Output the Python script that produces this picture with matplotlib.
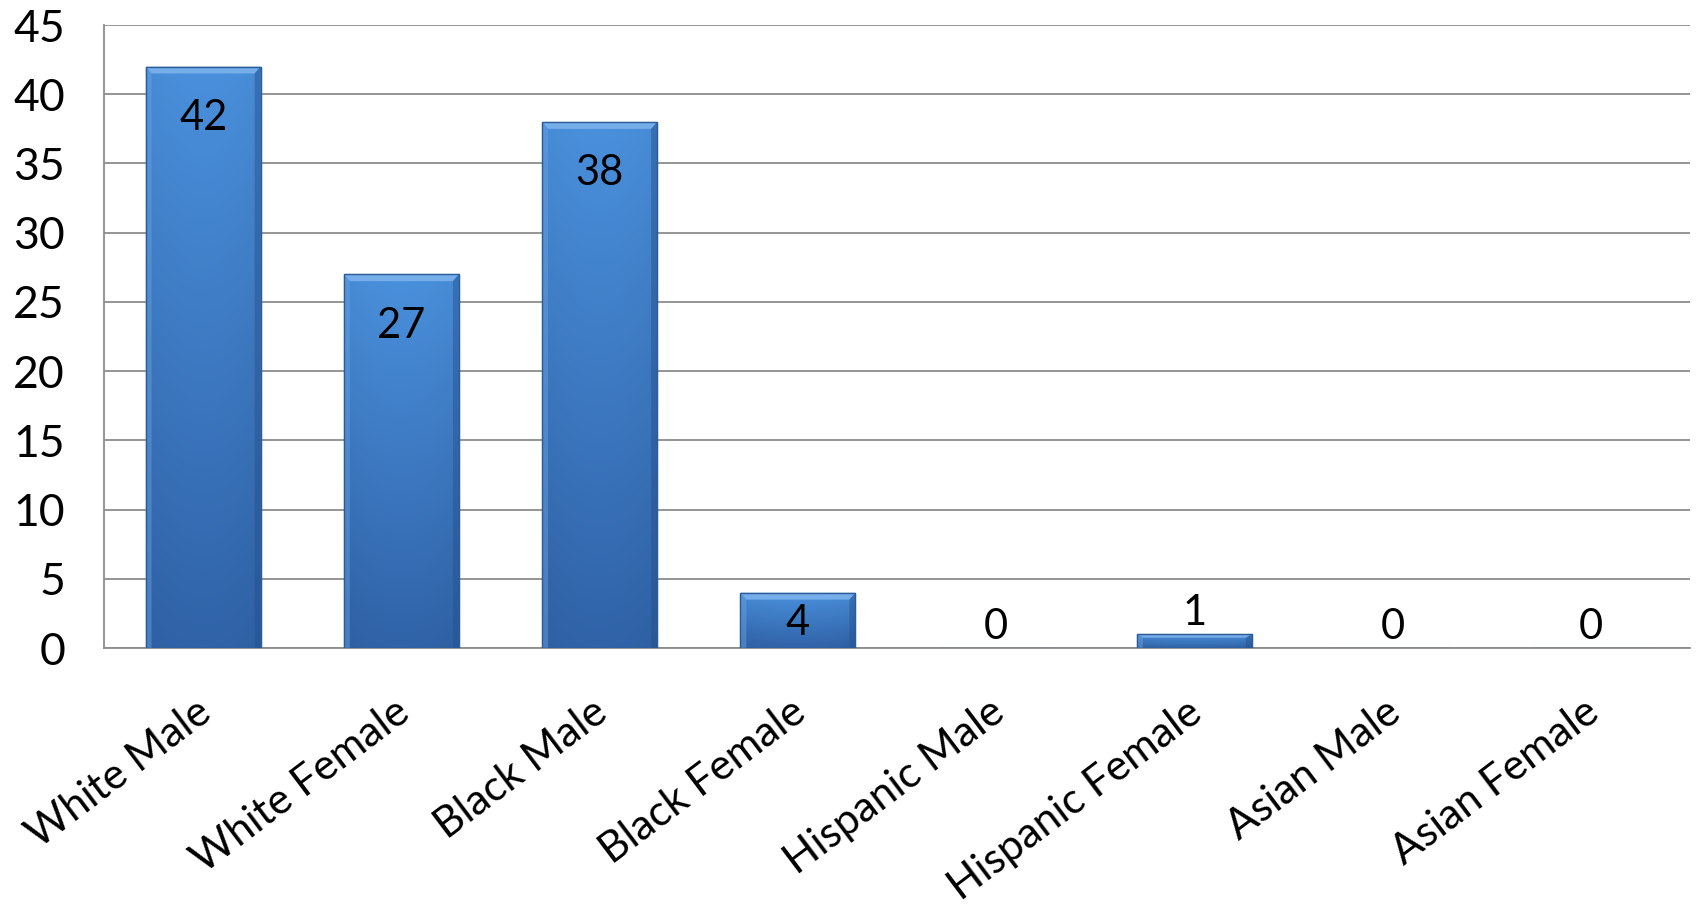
import numpy as np
import matplotlib
matplotlib.use("Agg")
import matplotlib.pyplot as plt
import matplotlib.transforms as mtransforms
from matplotlib.patches import Polygon

plt.rcParams['font.family'] = ['Lato', 'DejaVu Sans']

categories = ["White Male", "White Female", "Black Male", "Black Female",
              "Hispanic Male", "Hispanic Female", "Asian Male", "Asian Female"]
counts = [42, 27, 38, 4, 0, 1, 0, 0]

fig = plt.figure(figsize=(16.96, 9.07), dpi=100)
ax = fig.add_axes([0.0613, 0.2855, 0.9352, 0.6869])

x = np.arange(len(categories))
width = 0.58
bars = ax.bar(x, counts, width=width, color="#3b78c3", edgecolor="#2c5c96",
              linewidth=0.8, zorder=3)

ax.set_xlim(-0.5, len(categories) - 0.5)
ax.set_ylim(0, 45)
ax.set_yticks(range(0, 46, 5))

# gradient fill + bevel on each bar
grad = np.linspace(0, 1, 256).reshape(-1, 1)
hor = 1 - 0.35 * np.abs(np.linspace(-1, 1, 64)) ** 2
img = np.zeros((256, 64, 3))
top_c = np.array([0x4a, 0x90, 0xdc]) / 255
bot_c = np.array([0x30, 0x63, 0xa8]) / 255
for i in range(3):
    img[:, :, i] = (top_c[i] * (1 - grad) + bot_c[i] * grad) * (0.9 + 0.1 * hor)

for b in bars:
    h = b.get_height()
    if h <= 0:
        continue
    x0, w = b.get_x(), b.get_width()
    im = ax.imshow(img, extent=(x0, x0 + w, 0, h), aspect="auto", zorder=3.5,
                   interpolation="bilinear")
    im.set_clip_path(b)
    # bevel
    dx = 0.03
    dy = min(0.5, h * 0.25)
    ax.add_patch(Polygon([(x0, h), (x0 + w, h), (x0 + w - dx, h - dy), (x0 + dx, h - dy)],
                         closed=True, facecolor="#7fb4ee", edgecolor="none", alpha=0.85, zorder=4))
    ax.add_patch(Polygon([(x0, 0), (x0, h), (x0 + dx, h - dy), (x0 + dx, 0)],
                         closed=True, facecolor="#6aa3e3", edgecolor="none", alpha=0.45, zorder=4))
    ax.add_patch(Polygon([(x0 + w, 0), (x0 + w, h), (x0 + w - dx, h - dy), (x0 + w - dx, 0)],
                         closed=True, facecolor="#23508a", edgecolor="none", alpha=0.45, zorder=4))
    ax.add_patch(Polygon([(x0, h), (x0 + w, h), (x0 + w, 0), (x0, 0)], closed=True,
                         facecolor="none", edgecolor="#2c5c96", linewidth=1.0, zorder=4.5))

# value labels
for xi, v in zip(x, counts):
    if v >= 10:
        ax.annotate(str(v), (xi, v), xytext=(0, -37), textcoords="offset points",
                    ha="center", va="center", fontsize=30, zorder=6)
    elif v >= 3:
        ax.annotate(str(v), (xi, v / 2), xytext=(0, -2), textcoords="offset points",
                    ha="center", va="center", fontsize=30, zorder=6)
    else:
        ax.annotate(str(v), (xi, v), xytext=(0, 15), textcoords="offset points",
                    ha="center", va="center", fontsize=30, zorder=6)

ax.yaxis.grid(True, color="#8c8c8c", linewidth=1.3, zorder=0)
ax.set_axisbelow(True)
for s in ["top", "right"]:
    ax.spines[s].set_visible(False)
ax.spines["left"].set_color("#8c8c8c")
ax.spines["bottom"].set_color("#8c8c8c")
ax.spines["left"].set_linewidth(1.3)
ax.spines["bottom"].set_linewidth(1.3)
ax.tick_params(axis="both", length=0, labelsize=32)
ax.tick_params(axis="y", pad=28)
ax.set_xticks(x)
ax.set_xticklabels(categories, rotation=37, ha="right", va="top",
                   rotation_mode="anchor", fontsize=30.5)
ax.tick_params(axis="x", pad=32)
shift = mtransforms.ScaledTranslation(-8 / 100, 0, fig.dpi_scale_trans)
for lbl in ax.get_xticklabels():
    lbl.set_transform(lbl.get_transform() + shift)

fig.savefig("out.png", dpi=100, facecolor="white")
